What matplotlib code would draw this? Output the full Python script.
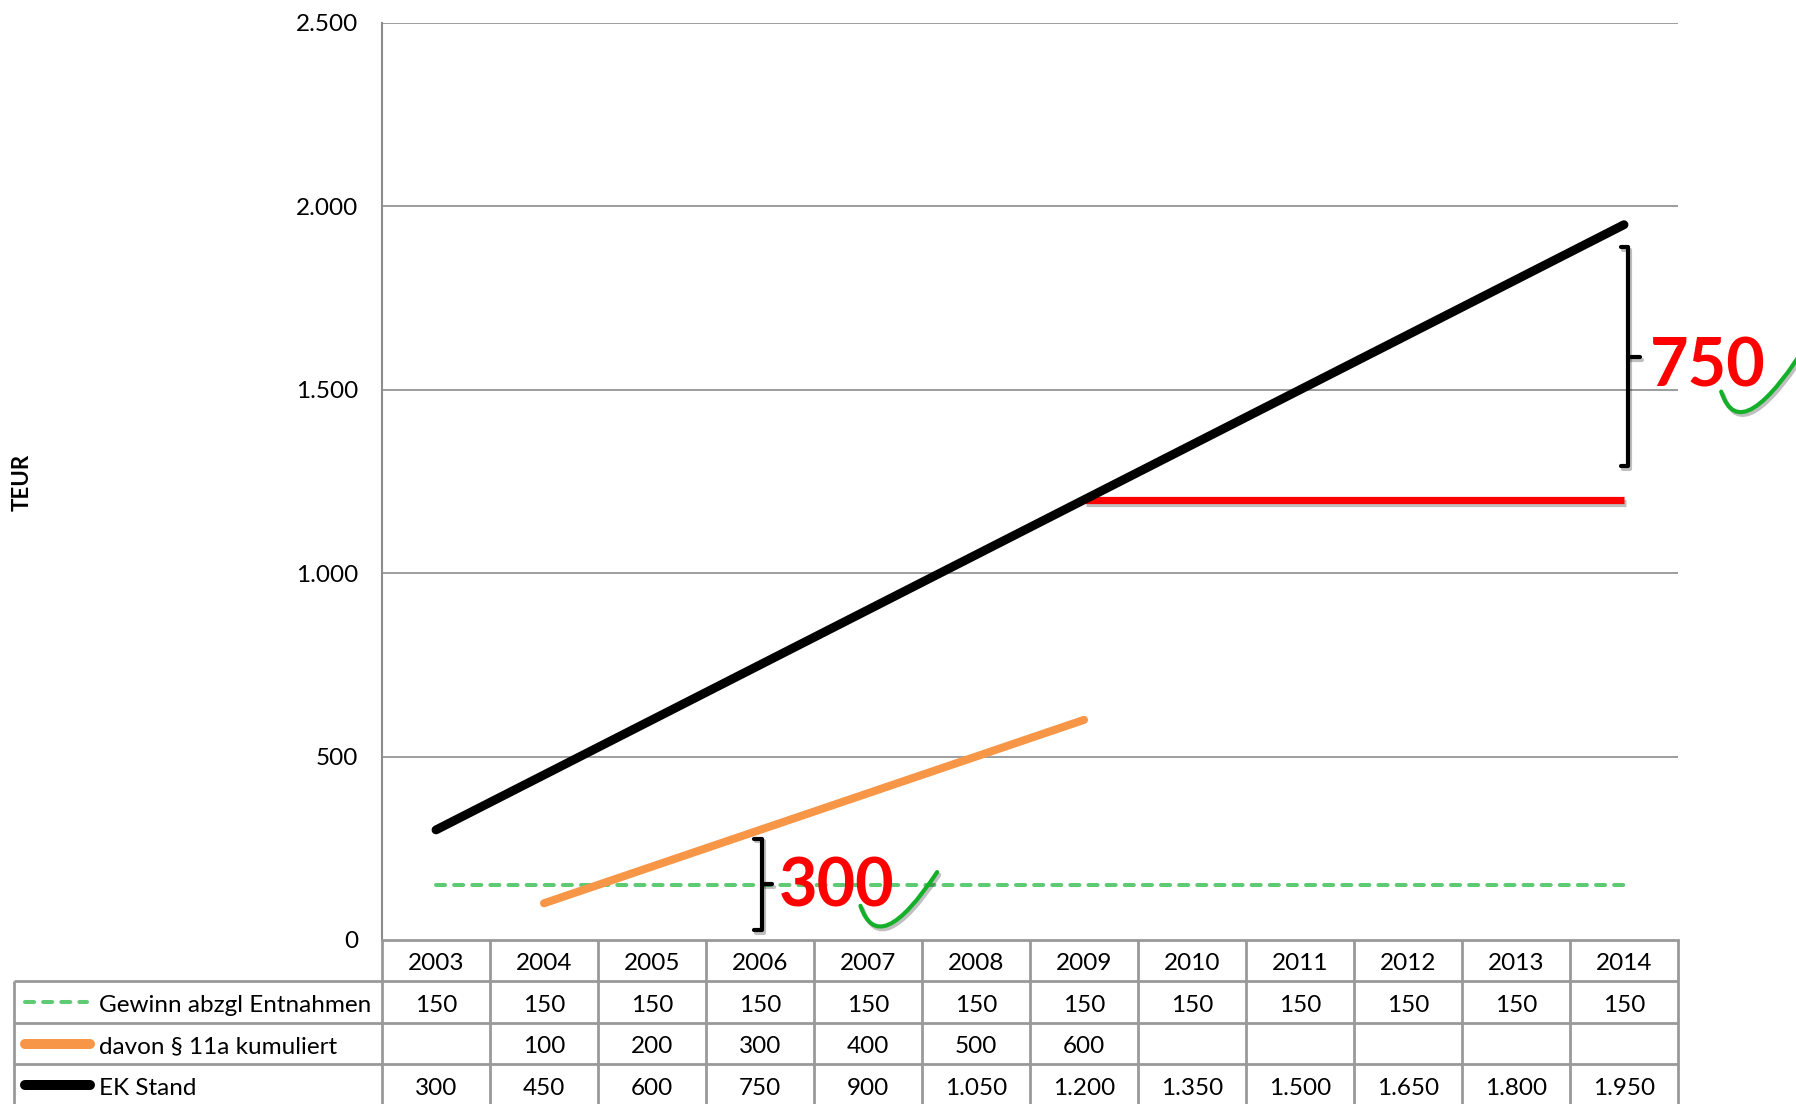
"""
EK Stand vs. Gewinn und § 11a kumuliert, 2003-2014
Line chart with a data table below the axes and hand-drawn style annotations.
"""

import matplotlib
matplotlib.use('Agg')
import matplotlib.pyplot as plt
import matplotlib.patheffects as pe
from matplotlib.path import Path
from matplotlib.patches import PathPatch

plt.rcParams['font.family'] = ['Lato', 'DejaVu Sans']

# Data
years = [2003, 2004, 2005, 2006, 2007, 2008, 2009, 2010, 2011, 2012, 2013, 2014]
gewinn = [150, 150, 150, 150, 150, 150, 150, 150, 150, 150, 150, 150]
kumuliert = [None, 100, 200, 300, 400, 500, 600, None, None, None, None, None]
ek_stand = [300, 450, 600, 750, 900, 1050, 1200, 1350, 1500, 1650, 1800, 1950]

series_names = ['Gewinn abzgl Entnahmen', 'davon § 11a kumuliert', 'EK Stand']

# red reference line: EK Stand of 2009 held flat up to 2014
red_years = [2009, 2014]
red_level = [1200, 1200]

# annotation labels
note_small = '300'
note_big = '750'

yticks = [0, 500, 1000, 1500, 2000, 2500]

GREEN = '#5ecb74'
ORANGE = '#f79646'
GRID = '#8c8c8c'
TABLE = '#999999'
CHECK = '#14b02a'
DASH = (0, (2.25, 2.25))
FS = 17.5


def de_fmt(v):
    # German thousands separator
    return f'{v:,.0f}'.replace(',', '.')


fig = plt.figure(figsize=(17.96, 11.04), dpi=100)
ax = fig.add_axes([0.2127, 0.1486, 0.7216, 0.8306])

# Lines
ax.plot(years, gewinn, color=GREEN, linewidth=2.9, linestyle=DASH,
        dash_capstyle='round', zorder=3)
k_years = [y for y, v in zip(years, kumuliert) if v is not None]
k_vals = [v for v in kumuliert if v is not None]
ax.plot(k_years, k_vals, color=ORANGE, linewidth=5.8, solid_capstyle='round', zorder=3)
ax.plot(years, ek_stand, color='black', linewidth=6.4, solid_capstyle='round', zorder=4)
ax.plot(red_years, red_level, color='#ff0000', linewidth=5.2, solid_capstyle='butt', zorder=3,
        path_effects=[pe.SimpleLineShadow(offset=(1.5, -2.5), alpha=0.25), pe.Normal()])

# Axes styling
ax.set_xlim(2002.5, 2014.5)
ax.set_ylim(0, 2500)
ax.set_yticks(yticks)
ax.set_yticklabels([de_fmt(v) for v in yticks], fontsize=FS)
ax.tick_params(axis='y', length=0, pad=17)
ax.set_xticks([])
for v in yticks[1:]:
    ax.axhline(v, color=GRID, linewidth=1.2, zorder=1)
for side in ['top', 'right']:
    ax.spines[side].set_visible(False)
ax.spines['left'].set_color(GRID)
ax.spines['left'].set_linewidth(1.5)
ax.spines['bottom'].set_color(TABLE)
ax.spines['bottom'].set_linewidth(2)

fig.text(0.0125, 0.563, 'TEUR', rotation=90, ha='center', va='center',
         fontsize=16, fontweight='bold')

# Data table below the axes (x in data, y in axes fraction)
tr = ax.get_xaxis_transform()
row_h = 41.5 / 917
text_shift = 3 / 917
table_left = 1999.095
n_rows = 4
# horizontal lines
for i in range(1, n_rows):
    ax.plot([table_left, 2014.5], [-i * row_h, -i * row_h], transform=tr, clip_on=False,
            color=TABLE, linewidth=2, solid_capstyle='butt')
# vertical lines
col_edges = [y - 0.5 for y in years] + [years[-1] + 0.5]
for x in col_edges:
    ax.plot([x, x], [0, -n_rows * row_h], transform=tr, clip_on=False,
            color=TABLE, linewidth=2, solid_capstyle='butt')
ax.plot([table_left, table_left], [-row_h, -n_rows * row_h], transform=tr, clip_on=False,
        color=TABLE, linewidth=2, solid_capstyle='butt')

# header row with years
for y in years:
    ax.text(y, -0.5 * row_h - text_shift, str(y), transform=tr, ha='center', va='center',
            fontsize=FS)

rows = [gewinn, kumuliert, ek_stand]
styles = [dict(color=GREEN, linewidth=2.9, linestyle=DASH, dash_capstyle='round'),
          dict(color=ORANGE, linewidth=7.2, solid_capstyle='round'),
          dict(color='black', linewidth=7.2, solid_capstyle='round')]
marker_x = [(1999.19, 1999.77), (1999.195, 1999.80), (1999.195, 1999.80)]
for r, (name, vals, st) in enumerate(zip(series_names, rows, styles)):
    yc = -(r + 1.5) * row_h
    ax.plot(list(marker_x[r]), [yc, yc], transform=tr, clip_on=False, **st)
    ax.text(1999.88, yc - text_shift, name, transform=tr, ha='left', va='center', fontsize=FS)
    for y, v in zip(years, vals):
        if v is not None:
            ax.text(y, yc - text_shift, de_fmt(v), transform=tr, ha='center', va='center',
                    fontsize=FS)

# Annotations: curly brackets, red numbers and green ticks
shadow = [pe.SimpleLineShadow(offset=(1.5, -2), alpha=0.25), pe.Normal()]


def bracket(x, x_hook, x_tip, y0, y1):
    ym = (y0 + y1) / 2
    ax.plot([x_hook, x, x, x_hook], [y1, y1, y0, y0], color='black', linewidth=3,
            solid_joinstyle='round', solid_capstyle='round', clip_on=False, zorder=5,
            path_effects=shadow)
    ax.plot([x, x_tip], [ym, ym], color='black', linewidth=3, solid_capstyle='round',
            clip_on=False, zorder=5, path_effects=shadow)


def check(p_start, p_ctrl, p_end):
    path = Path([p_start, p_ctrl, p_end], [Path.MOVETO, Path.CURVE3, Path.CURVE3])
    ax.add_patch(PathPatch(path, facecolor='none', edgecolor=CHECK, linewidth=3,
                           capstyle='round', clip_on=False, zorder=6,
                           path_effects=shadow))


bracket(2006.02, 2005.94, 2006.11, 27, 276)
ax.text(2006.71, 142, note_small, ha='center', va='center', color='#ff0000',
        fontsize=48, fontweight='bold', zorder=6, clip_on=False)
check((2006.93, 93), (2007.10, -55), (2007.64, 185))

bracket(2014.04, 2013.97, 2014.15, 1292, 1888)
ax.text(2014.78, 1560, note_big, ha='center', va='center', color='#ff0000',
        fontsize=48, fontweight='bold', zorder=6, clip_on=False)
check((2014.90, 1495), (2015.08, 1330), (2015.75, 1650))

plt.savefig('out.png', dpi=100)
